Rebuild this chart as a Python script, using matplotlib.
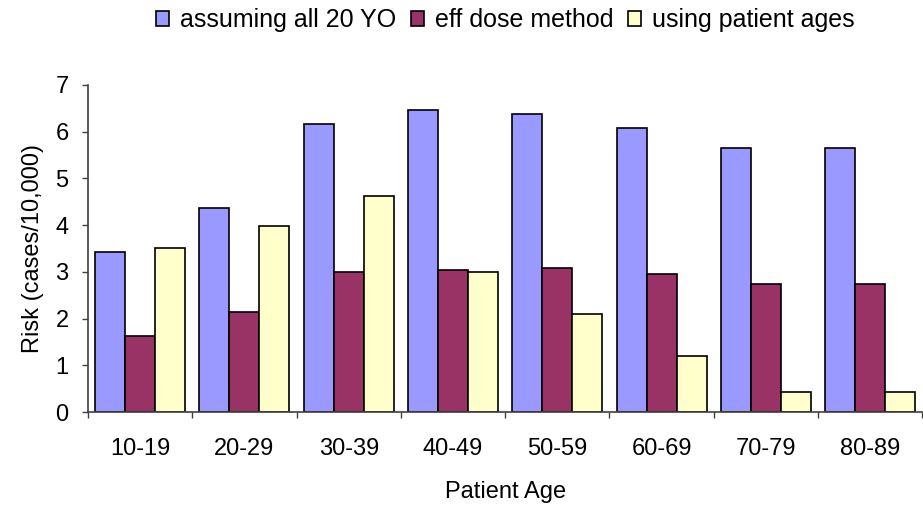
import numpy as np
import matplotlib.pyplot as plt
from matplotlib.ticker import FixedLocator

plt.rcParams['font.family'] = ['Liberation Sans', 'DejaVu Sans']

age_groups = ['10-19', '20-29', '30-39', '40-49', '50-59', '60-69', '70-79', '80-89']
all_20yo = [3.42, 4.37, 6.17, 6.47, 6.38, 6.09, 5.65, 5.65]
eff_dose = [1.62, 2.14, 2.99, 3.03, 3.08, 2.95, 2.74, 2.74]
patient_ages = [3.52, 3.98, 4.62, 2.99, 2.10, 1.20, 0.42, 0.42]

series = [
    ('assuming all 20 YO', all_20yo, '#9999FF'),
    ('eff dose method', eff_dose, '#993366'),
    ('using patient ages', patient_ages, '#FFFFCC'),
]

fs = 17

fig = plt.figure(figsize=(9.23, 5.12), dpi=100)
ax = fig.add_axes([0.0953, 0.1953, 0.9040, 0.6387])

x = np.arange(len(age_groups))
w = 0.288
for i, (name, vals, col) in enumerate(series):
    ax.bar(x + (i - 1) * w, vals, w, color=col, edgecolor='black',
           linewidth=1.2, label=name)

ax.set_xlim(-0.5, len(age_groups) - 0.5)
ax.set_ylim(0, 7)
ax.set_yticks(range(8))

# group separators as ticks, labels sit between them
ax.xaxis.set_major_locator(FixedLocator(np.arange(-0.5, len(age_groups), 1.0)))
ax.xaxis.set_minor_locator(FixedLocator(x))
ax.set_xticklabels([], minor=False)
ax.set_xticklabels(age_groups, minor=True)
ax.tick_params(axis='x', which='major', length=4.5, width=1, color='#404040')
ax.tick_params(axis='x', which='minor', length=0, pad=19, labelsize=fs)
ax.tick_params(axis='y', length=4.5, width=1, color='#404040', labelsize=fs, pad=9.5)

for s in ['top', 'right']:
    ax.spines[s].set_visible(False)
for s in ['left', 'bottom']:
    ax.spines[s].set_color('#404040')
    ax.spines[s].set_linewidth(1.2)

ax.set_xlabel('Patient Age', fontsize=fs, labelpad=15)
ax.set_ylabel('Risk (cases/10,000)', fontsize=fs, labelpad=8)

ax.legend(loc='center', bbox_to_anchor=(0.5, 1.0 + (85 - 20) / 327), ncol=3,
          frameon=False, fontsize=18, handlelength=0.53, handleheight=0.53,
          handletextpad=0.42, columnspacing=0.6)

fig.savefig('out.png', dpi=100)
